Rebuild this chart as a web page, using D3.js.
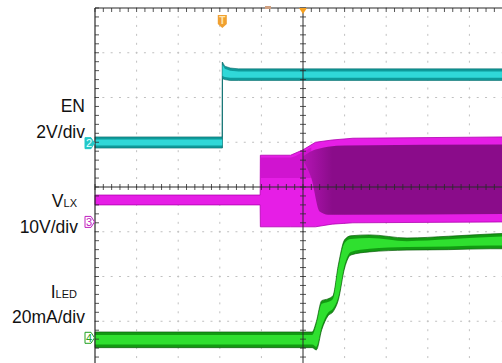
<!DOCTYPE html>
<html lang="en">
<head>
  <meta charset="UTF-8"/>
  <title>EN / VLX / ILED startup</title>
  <style>
    *{margin:0;padding:0;box-sizing:border-box}
    body{background:#fff;font-family:"Liberation Sans",Arial,sans-serif}
    svg{display:block}
  </style>
</head>
<body>
  <div id="chart"></div>
  <script src="https://d3js.org/d3.v7.min.js"></script>
  <script>
    // screen is 10 x 8 divisions, values below are in divisions (0 = centre line)
    // EN, channel 2 (cyan)
    const enX  = [0, 3.06, 3.065, 3.12, 3.25, 3.45, 10];
    const enLo = [0.87, 0.87, 2.42, 2.40, 2.38, 2.38, 2.38];
    const enHi = [1.12, 1.12, 2.79, 2.70, 2.66, 2.64, 2.64];

    // VLX, channel 3 (magenta) switching envelope
    const vlxX  = [0, 3.97, 3.975, 4.7, 5.0, 5.3, 5.7, 6.2, 10];
    const vlxHi = [-0.18, -0.18, 0.71, 0.71, 0.83, 1.0, 1.05, 1.09, 1.12];
    const vlxLo = [-0.40, -0.40, -0.89, -0.89, -0.89, -0.89, -0.83, -0.80, -0.78];
    // denser (darker) parts of the envelope
    const upperX  = [3.975, 4.7, 5.0, 5.2];
    const upperHi = [0.66, 0.66, 0.78, 0.88];
    const upperLo = [0.20, 0.20, 0.20, 0.20];
    const darkX  = [5.0, 5.2, 5.4, 5.6, 6.0, 10];
    const darkHi = [0.68, 0.80, 0.86, 0.90, 0.93, 0.95];
    const darkLo = [0.60, 0.20, -0.55, -0.62, -0.62, -0.60];

    // ILED, channel 4 (green)
    const iledX  = [0, 5.22, 5.32, 5.45, 5.6, 5.72, 5.85, 6.0, 6.15, 6.6, 7.5, 8.5, 9.5, 10];
    const iledHi = [-3.24, -3.24, -3.01, -2.54, -2.50, -2.43, -1.74, -1.18, -1.09, -1.07, -1.14, -1.10, -1.05, -1.03];
    const iledLo = [-3.59, -3.59, -3.64, -3.19, -2.88, -2.79, -2.52, -1.81, -1.52, -1.45, -1.41, -1.40, -1.38, -1.38];

    // channel ground markers and trigger
    const markers = [
      {ch:'2', y:0.98,  color:'#22c8c8', filled:true},
      {ch:'3', y:-0.78, color:'#c020c0', filled:false},
      {ch:'4', y:-3.37, color:'#20a020', filled:false}
    ];
    const trigX = 3.06;

    // labels
    const labels = [
      {main:'EN', sub:'', y:112, x:85},
      {main:'2V/div', sub:'', y:138, x:85},
      {main:'V', sub:'LX', y:207, x:77},
      {main:'10V/div', sub:'', y:233, x:78},
      {main:'I', sub:'LED', y:298, x:77},
      {main:'20mA/div', sub:'', y:323, x:85}
    ];

    const W = 502, H = 363;
    const x = d3.scaleLinear().domain([0, 10]).range([95, 511]);
    const y = d3.scaleLinear().domain([-4, 4]).range([366, 8]);

    const svg = d3.select('#chart').append('svg')
      .attr('width', W).attr('height', H)
      .attr('viewBox', [0, 0, W, H]);
    svg.append('rect').attr('width', W).attr('height', H).attr('fill', '#fff');

    const defs = svg.append('defs');
    const grad = defs.append('linearGradient').attr('id', 'purp')
      .attr('gradientUnits', 'userSpaceOnUse')
      .attr('x1', x(5.0)).attr('x2', x(5.7)).attr('y1', 0).attr('y2', 0);
    grad.append('stop').attr('offset', 0).attr('stop-color', '#b414b4');
    grad.append('stop').attr('offset', 1).attr('stop-color', '#8a0c8a');

    // dotted graticule
    const grid = svg.append('g');
    const minor = d3.range(0, 10.01, 0.2);
    const minorY = d3.range(-4, 4.01, 0.2);
    d3.range(1, 10).filter(d => d !== 5).forEach(gx => {
      grid.selectAll(null).data(minorY).join('rect')
        .attr('x', x(gx) - 0.5).attr('y', d => y(d) - 1)
        .attr('width', 1).attr('height', 2).attr('fill', '#c0c0c0');
    });
    d3.range(-3, 4).filter(d => d !== 0).forEach(gy => {
      grid.selectAll(null).data(minor).join('rect')
        .attr('x', d => x(d) - 1).attr('y', y(gy) - 0.5)
        .attr('width', 2).attr('height', 1).attr('fill', '#c0c0c0');
    });

    function band(xs, lo, hi, curve) {
      const pts = xs.map((d, i) => ({x: d, lo: lo[i], hi: hi[i]}));
      return d3.area().x(d => x(d.x)).y0(d => y(d.lo)).y1(d => y(d.hi))
        .curve(curve || d3.curveLinear)(pts);
    }
    function inset(lo, hi, k) {
      return [lo.map((v, i) => v + Math.min(k, (hi[i] - v) / 3)),
              hi.map((v, i) => v - Math.min(k, (v - lo[i]) / 3))];
    }

    // VLX
    svg.append('path').attr('d', band(vlxX, vlxLo, vlxHi))
      .attr('fill', '#e61ee6').attr('stroke', '#b000b0').attr('stroke-width', 0.8);
    svg.append('path').attr('d', band(upperX, upperLo, upperHi, d3.curveMonotoneX))
      .attr('fill', '#d014d0');
    svg.append('path').attr('d', band(darkX, darkLo, darkHi, d3.curveMonotoneX))
      .attr('fill', 'url(#purp)');

    // EN
    svg.append('line')
      .attr('x1', x(trigX)).attr('x2', x(trigX))
      .attr('y1', y(0.87)).attr('y2', y(2.79))
      .attr('stroke', '#3a8080').attr('stroke-width', 1);
    svg.append('path').attr('d', band(enX, enLo, enHi))
      .attr('fill', '#0f9a9a').attr('stroke', '#086d6d').attr('stroke-width', 0.6);
    const enIn = inset(enLo, enHi, 0.06);
    svg.append('path').attr('d', band(enX, enIn[0], enIn[1]))
      .attr('fill', '#30d8d8');

    // ILED
    svg.append('path').attr('d', band(iledX, iledLo, iledHi, d3.curveMonotoneX))
      .attr('fill', '#129a12').attr('stroke', '#0b5e0b').attr('stroke-width', 0.7);
    const ilIn = inset(iledLo, iledHi, 0.07);
    svg.append('path').attr('d', band(iledX, ilIn[0], ilIn[1], d3.curveMonotoneX))
      .attr('fill', '#2fe02f');

    // solid border and centre lines with ticks
    const frame = svg.append('g').attr('stroke', '#2a2a2a');
    frame.append('line').attr('x1', x(0)).attr('x2', W).attr('y1', y(4)).attr('y2', y(4)).attr('stroke-width', 1.2);
    frame.append('line').attr('x1', x(0)).attr('x2', x(0)).attr('y1', y(4)).attr('y2', H).attr('stroke-width', 1.2);
    frame.append('line').attr('x1', x(5)).attr('x2', x(5)).attr('y1', y(4)).attr('y2', H).attr('stroke-width', 1);
    frame.append('line').attr('x1', x(0)).attr('x2', W).attr('y1', y(0)).attr('y2', y(0)).attr('stroke-width', 1);
    frame.selectAll('.tt').data(minor).join('line')
      .attr('x1', d => x(d)).attr('x2', d => x(d)).attr('y1', y(4)).attr('y2', y(4) + 4).attr('stroke-width', 0.8);
    frame.selectAll('.tl').data(minorY).join('line')
      .attr('x1', x(0)).attr('x2', x(0) + 4).attr('y1', d => y(d)).attr('y2', d => y(d)).attr('stroke-width', 0.8);
    frame.selectAll('.tc').data(minorY).join('line')
      .attr('x1', x(5) - 3).attr('x2', x(5) + 3).attr('y1', d => y(d)).attr('y2', d => y(d)).attr('stroke-width', 0.8);
    frame.selectAll('.th').data(minor).join('line')
      .attr('x1', d => x(d)).attr('x2', d => x(d)).attr('y1', y(0) - 3).attr('y2', y(0) + 3).attr('stroke-width', 0.8);

    // channel markers
    markers.forEach(m => {
      const cy = y(m.y), x0 = x(0) - 10;
      const g = svg.append('g');
      g.append('path')
        .attr('d', `M${x0},${cy - 5.5} h6 l3.5,5.5 l-3.5,5.5 h-6 z`)
        .attr('fill', m.filled ? m.color : '#fff')
        .attr('stroke', m.color).attr('stroke-width', 1);
      g.append('text').attr('x', x0 + 4).attr('y', cy + 4)
        .attr('text-anchor', 'middle').attr('font-size', 11)
        .attr('fill', m.filled ? '#e8ffff' : m.color).text(m.ch);
    });

    // trigger markers
    const tx = x(trigX);
    svg.append('path')
      .attr('d', `M${tx - 4.5},15 h9 v9 l-4.5,4 l-4.5,-4 z`)
      .attr('fill', '#f0a030');
    svg.append('text').attr('x', tx).attr('y', 24).attr('text-anchor', 'middle')
      .attr('font-size', 10).attr('font-weight', 'bold').attr('fill', '#ffe6b0').text('T');
    svg.append('path')
      .attr('d', `M${x(5) - 4},${y(4)} h8 l-4,6 z`).attr('fill', '#f5a020');
    svg.append('rect').attr('x', 265).attr('y', 6).attr('width', 6).attr('height', 3).attr('fill', '#d0a080');

    // labels
    labels.forEach(l => {
      const t = svg.append('text').attr('x', l.x).attr('y', l.y)
        .attr('text-anchor', 'end').attr('font-size', 17.5).attr('fill', '#111');
      t.append('tspan').text(l.main);
      if (l.sub) t.append('tspan').attr('font-size', 11).text(l.sub);
    });
  </script>
</body>
</html>
